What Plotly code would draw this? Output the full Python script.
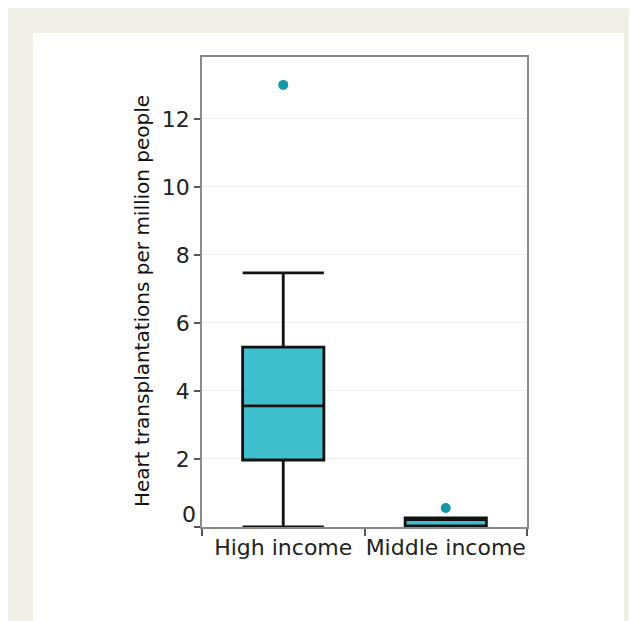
import plotly.graph_objects as go

categories = ["High income", "Middle income"]
lower_whisker = [0.0, 0.0]
q1_values = [1.97, 0.03]
median_values = [3.56, 0.22]
q3_values = [5.29, 0.27]
upper_whisker = [7.47, 0.27]
outlier_x = ["High income", "Middle income"]
outlier_y = [13.0, 0.56]
y_tick_values = [0, 2, 4, 6, 8, 10, 12]
y_tick_labels = ["", "2", "4", "6", "8", "10", "12"]
y_title = "Heart transplantations per million people"

FONT = "DejaVu Sans"
fig = go.Figure()

fig.add_trace(go.Box(
    x=categories,
    q1=q1_values, median=median_values, q3=q3_values,
    lowerfence=lower_whisker, upperfence=upper_whisker,
    fillcolor="#40c0cd",
    line=dict(color="#111111", width=2.8),
    whiskerwidth=1,
    width=0.5,
    boxpoints=False,
    showlegend=False,
    hoverinfo="skip",
))

fig.add_trace(go.Scatter(
    x=outlier_x, y=outlier_y, mode="markers",
    marker=dict(color="#1597a8", size=10),
    showlegend=False,
))

# page is offset by the 8px body margin
OFF = 8
W, H = 637 - OFF, 621 - OFF
L, T, R, B = 202 - OFF, 57 - OFF, 527 - OFF, 527 - OFF
pw, ph = R - L, B - T

fig.add_shape(type="rect", xref="paper", yref="paper",
              x0=(33 - OFF - L) / pw, x1=(624 - OFF - L) / pw,
              y0=(B - 640) / ph, y1=(B - (33 - OFF)) / ph,
              fillcolor="white", line=dict(width=0), layer="below")

fig.add_annotation(x=0, xref="paper", y=0, yref="y", text="0",
                   showarrow=False, xanchor="right", yanchor="middle",
                   xshift=-4, yshift=13,
                   font=dict(family=FONT, size=22, color="#222222"))

fig.add_annotation(x=(142 - OFF - L) / pw, xref="paper",
                   y=(B - (301 - OFF)) / ph, yref="paper",
                   text=y_title, textangle=-90, showarrow=False,
                   xanchor="center", yanchor="middle",
                   font=dict(family=FONT, size=20, color="#111111"))

fig.update_layout(
    width=W, height=H,
    margin=dict(l=L, r=W - R, t=T, b=H - B, autoexpand=False),
    paper_bgcolor="#efefe6",
    plot_bgcolor="white",
    font=dict(family=FONT, size=22, color="#222222"),
    xaxis=dict(
        type="category",
        showline=True, linecolor="#8a8a8a", linewidth=1.5, mirror=True,
        ticks="outside", tickson="boundaries", ticklen=7, tickcolor="#555555",
        tickwidth=1.5, tickangle=0, automargin=False,
        showgrid=False,
        tickfont=dict(family=FONT, size=22, color="#222222"),
        range=[-0.5, 1.5],
    ),
    yaxis=dict(
        range=[0, 13.82], automargin=False,
        tickvals=y_tick_values, ticktext=y_tick_labels,
        showline=True, linecolor="#8a8a8a", linewidth=1.5, mirror=True,
        ticks="outside", ticklen=6, tickcolor="#555555", tickwidth=1.5,
        showgrid=True, gridcolor="#eeeeee", gridwidth=1,
        zeroline=False,
        tickfont=dict(family=FONT, size=22, color="#222222"),
    ),
)

fig.write_html("out.html")
